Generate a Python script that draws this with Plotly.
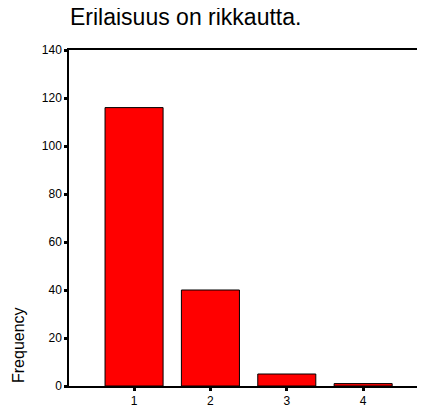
import plotly.graph_objects as go

categories = [1, 2, 3, 4]
frequency = [116, 40, 5, 1]
y_ticks = [0, 20, 40, 60, 80, 100, 120, 140]

# page body adds an 8px offset; figure sized to fill the rest of the window
W, H = 417, 399
L, R, T, B = 61, 0, 42, 21
PW, PH = W - L - R, H - T - B

fig = go.Figure()
fig.add_trace(go.Bar(
    x=categories, y=frequency, width=0.76,
    marker=dict(color="#ff0000", line=dict(color="#000000", width=1)),
))

fig.update_layout(
    width=W, height=H,
    margin=dict(l=L, r=R, t=T, b=B, autoexpand=False),
    paper_bgcolor="white", plot_bgcolor="white",
    font=dict(family="Liberation Sans, Arial, sans-serif", color="black", size=12),
    showlegend=False,
    title=dict(text="Erilaisuus on rikkautta.", x=62 / W, xanchor="left",
               y=1 - 1 / H, yanchor="top",
               font=dict(size=23, family="Liberation Sans, Arial, sans-serif")),
    annotations=[dict(text="Frequency", xref="paper", yref="paper",
                      x=-51 / PW, y=41 / PH, textangle=-90,
                      xanchor="center", yanchor="middle", showarrow=False,
                      font=dict(size=16))],
)
fig.update_xaxes(
    range=[0.148, 4.81], tickvals=categories, ticktext=[str(c) for c in categories],
    showgrid=False, zeroline=False, showline=True, linecolor="black", linewidth=1.5,
    mirror=True, ticks="outside", ticklen=3, tickwidth=3, tickcolor="black",
    tickfont=dict(size=12),
)
fig.update_yaxes(
    range=[0, 140], tickvals=y_ticks,
    showgrid=False, zeroline=False, showline=True, linecolor="black", linewidth=1.5,
    ticks="outside", ticklen=3, tickwidth=3, tickcolor="black",
    tickfont=dict(size=12),
)
fig.write_html("out.html")
